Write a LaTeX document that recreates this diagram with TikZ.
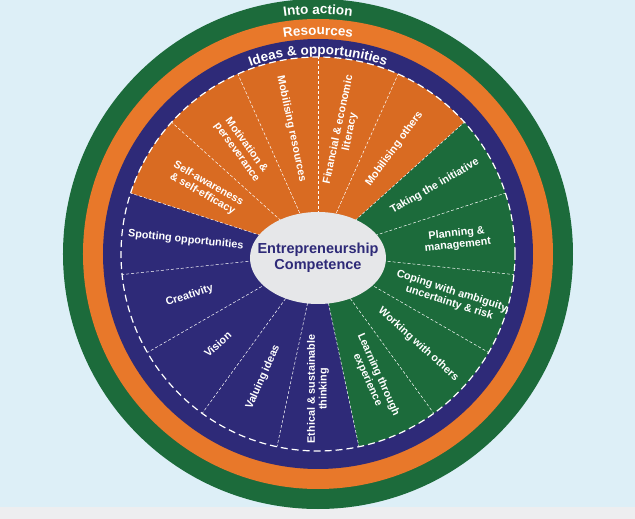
\documentclass[tikz,border=0pt]{standalone}
\usepackage{fontspec}
\setmainfont{Liberation Sans}
\usetikzlibrary{decorations.text,shapes.geometric}
\definecolor{bg}{HTML}{DDEFF7}
\definecolor{grn}{HTML}{1C6B3B}
\definecolor{org}{HTML}{E8782A}
\definecolor{orgw}{HTML}{D96B22}
\definecolor{nav}{HTML}{2E2A78}
\definecolor{ell}{HTML}{E6E7E9}
\begin{document}
\begin{tikzpicture}[x=1pt,y=1pt,
  lbl/.style={text=white,font=\bfseries\fontsize{10.8}{11.8}\selectfont,align=center},
  div/.style={white,densely dashed,line width=0.5pt},
  ring/.style={postaction={decorate,decoration={text along path,text align=center,
     text={|\bfseries\fontsize{13.5}{14}\selectfont\color{white}|#1}}}}]
\fill[bg] (-318,-265) rectangle (317,254);
\fill[ell!70!white] (-318,-265) rectangle (317,-253);
\useasboundingbox (-318,-265) rectangle (317,254);
\fill[grn] (0,0) circle (255);
\fill[org] (0,0) circle (235);
\fill[nav] (0,0) circle (215);
\fill[orgw] (0,0) -- (42:197) arc (42:162:197) -- cycle;
\fill[grn] (0,0) -- (-78:197) arc (-78:42:197) -- cycle;
\foreach \a in {-54,-30,-6,18,42,66,90,114,138,162,186,210,234,258,282}
  \draw[div] (0,0) -- (\a:197);
\draw[white,dash pattern=on 7pt off 4pt,line width=1.2pt] (0,0) circle (197);
\path[ring={Into action}] (130:240) arc (130:50:240);
\path[ring={Resources}] (130:219) arc (130:50:219);
\path[ring={Ideas {\&} opportunities}] (130:199.5) arc (130:50:199.5);
\node[ellipse,fill=ell,minimum width=136,minimum height=92,inner sep=0] (c) at (0,-4) {};
\node[text=nav,font=\bfseries\fontsize{14.5}{16.5}\selectfont,align=center] (ct) at (c.center) {Entrepreneurship\\Competence};
\node[lbl,rotate=-30] (l1) at (150:130) {Self-awareness\\\& self-efficacy};
\node[lbl,rotate=-54] (l2) at (126:130) {Motivation \&\\perseverance};
\node[lbl,rotate=-78] (l3) at (102:128) {Mobilising resources};
\node[lbl,rotate=78] (l4) at (78:126) {Financial \& economic\\literacy};
\node[lbl,rotate=54] (l5) at (54:130) {Mobilising others};
\node[lbl,rotate=30] (g1) at (30:135) {Taking the initiative};
\node[lbl,rotate=6] (g2) at (6:140) {Planning \&\\management};
\node[lbl,rotate=-18] (g3) at (-18:140) {Coping with ambiguity,\\uncertainty \& risk};
\node[lbl,rotate=-42] (g4) at (-42:135) {Working with others};
\node[lbl,rotate=-66] (g5) at (-66:135) {Learning through\\experience};
\node[lbl,rotate=-6] (n1) at (174:133) {Spotting opportunities};
\node[lbl,rotate=18] (n2) at (198:135) {Creativity};
\node[lbl,rotate=42] (n3) at (222:135) {Vision};
\node[lbl,rotate=66] (n4) at (246:135) {Valuing ideas};
\node[lbl,rotate=90] (n5) at (270:135) {Ethical \& sustainable\\thinking};
\end{tikzpicture}
\end{document}
